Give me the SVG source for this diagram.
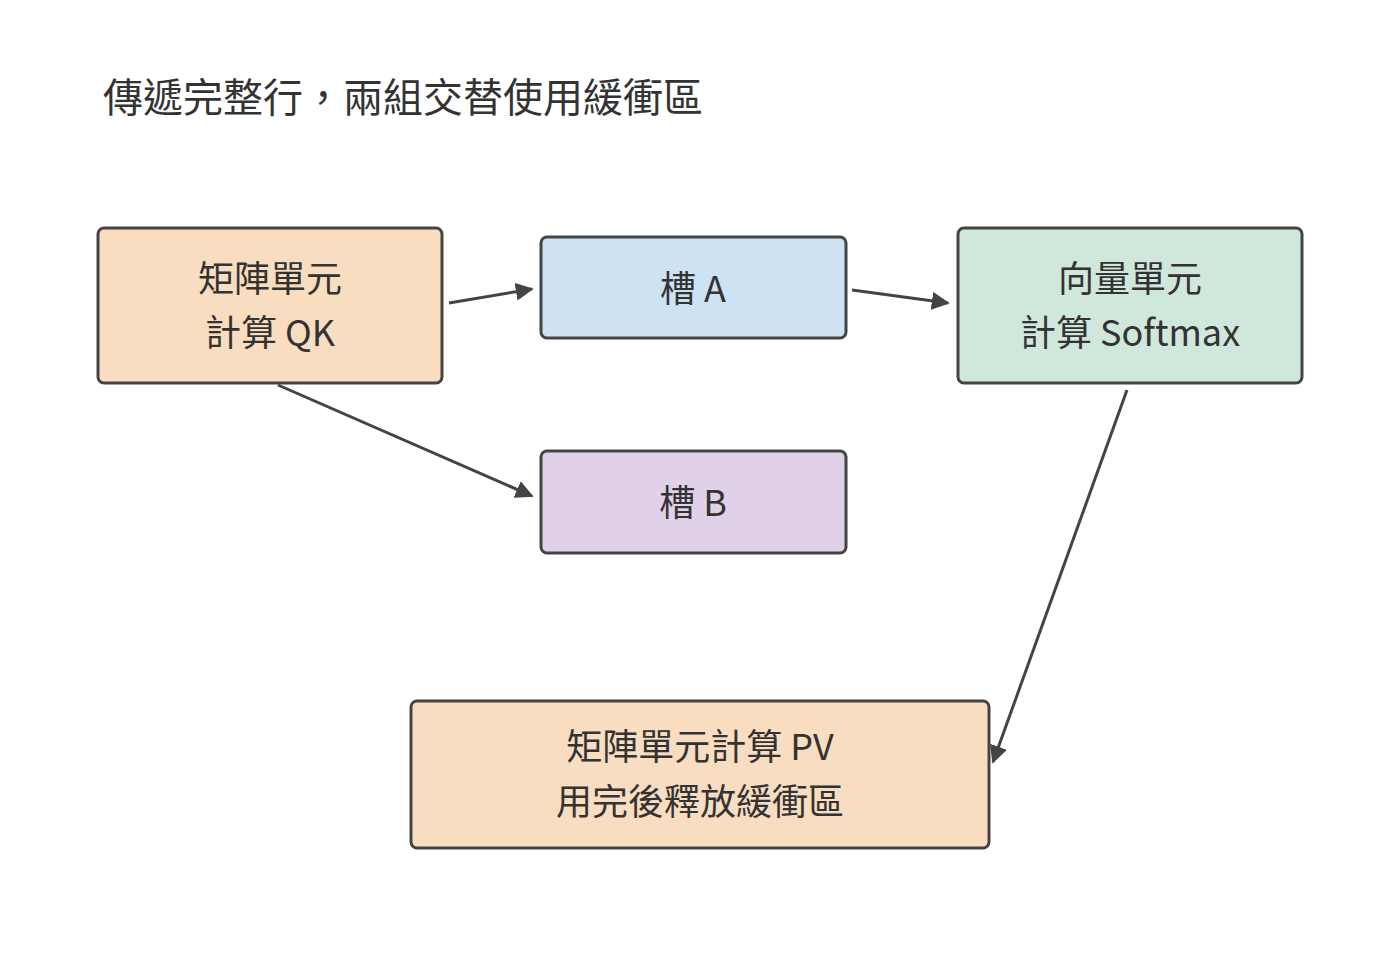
<svg xmlns="http://www.w3.org/2000/svg" width="1400" height="960" viewBox="0 0 1400 960">
<style>
text{font-family:"Noto Sans CJK TC","Noto Sans",sans-serif;fill:#333;text-anchor:middle;font-size:36px}
.n rect{stroke:#444;stroke-width:3}
.c line{stroke:#444;stroke-width:3;marker-end:url(#a)}
</style>
<defs><marker id="a" viewBox="0 0 10 10" refX="9" refY="5" markerWidth="6" markerHeight="6" orient="auto"><path d="M0,0L10,5L0,10z" fill="#444"/></marker></defs>
<rect width="1400" height="960" fill="#fff"/>
<text x="103" y="112" style="text-anchor:start;font-size:40px">傳遞完整行，兩組交替使用緩衝區</text>
<g class="c">
<line x1="449" y1="303" x2="532" y2="289"/>
<line x1="852" y1="290" x2="948" y2="303"/>
<line x1="278" y1="385" x2="532" y2="496"/>
<line x1="1127" y1="390" x2="993" y2="762"/>
</g>
<g id="qk" class="n"><rect x="98" y="228" width="344" height="155" rx="6" fill="#f9ddc0"/><text x="270" y="292">矩陣單元</text><text x="270" y="346">計算 QK</text></g>
<g id="slotA" class="n"><rect x="541" y="237" width="305" height="101" rx="6" fill="#cde2f2"/><text x="693" y="302">槽 A</text></g>
<g id="softmax" class="n"><rect x="958" y="228" width="344" height="155" rx="6" fill="#d0e7db"/><text x="1130" y="292">向量單元</text><text x="1130" y="346">計算 Softmax</text></g>
<g id="slotB" class="n"><rect x="541" y="451" width="305" height="102" rx="6" fill="#e0d0e8"/><text x="693" y="516">槽 B</text></g>
<g id="pv" class="n"><rect x="411" y="701" width="578" height="147" rx="6" fill="#f9ddc0"/><text x="700" y="760">矩陣單元計算 PV</text><text x="700" y="815">用完後釋放緩衝區</text></g>
</svg>
